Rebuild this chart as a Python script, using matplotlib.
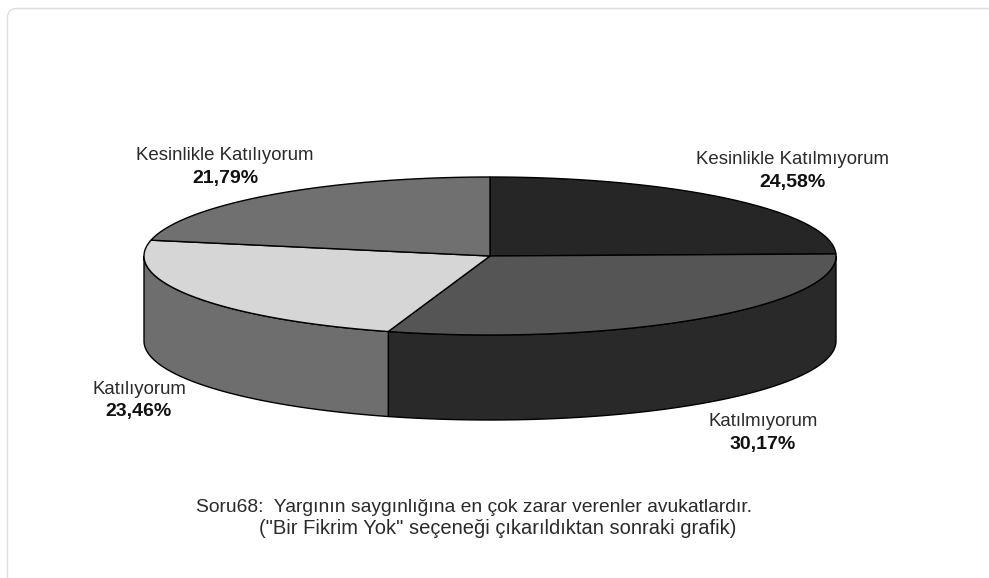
import numpy as np
import matplotlib
matplotlib.use('Agg')
import matplotlib.pyplot as plt
from matplotlib.patches import FancyBboxPatch, Polygon

plt.rcParams['font.family'] = ['Liberation Sans', 'DejaVu Sans']

# dilimler saat yonunde, tepeden baslayarak
etiketler = ['Kesinlikle Katılmıyorum', 'Katılmıyorum', 'Katılıyorum', 'Kesinlikle Katılıyorum']
degerler = [24.58, 30.17, 23.46, 21.79]
yuzdeler = ['24,58%', '30,17%', '23,46%', '21,79%']
renk_ust = ['#262626', '#555555', '#d6d6d6', '#707070']
renk_yan = ['#262626', '#292929', '#6e6e6e', '#707070']
etiket_yer = [(792, 160), (763, 422), (139, 389), (225, 156)]

dipnot1 = 'Soru68:  Yargının saygınlığına en çok zarar verenler avukatlardır.'
dipnot2 = '("Bir Fikrim Yok" seçeneği çıkarıldıktan sonraki grafik)'

# elips geometrisi (piksel)
cx, cy = 490, 256
rx, ry = 346, 79
derinlik = 85

fig = plt.figure(figsize=(9.89, 5.78), dpi=100)
ax = fig.add_axes([0, 0, 1, 1])
ax.set_xlim(0, 989)
ax.set_ylim(578, 0)
ax.axis('off')

ax.add_patch(FancyBboxPatch((7.5, 8.5), 1100, 700, boxstyle='round,pad=0,rounding_size=9',
                            fc='white', ec='#dedede', lw=1))


def elips(t, dy=0):
    return np.column_stack([cx + rx * np.cos(t), cy + ry * np.sin(t) + dy])


sinirlar = np.cumsum([0] + degerler) / 100 * 2 * np.pi - np.pi / 2

# yan yuzler: ekranda y asagi dogru, yani sin(t) > 0 olan kisim on taraf
for i in range(len(degerler)):
    a = max(sinirlar[i], 0)
    b = min(sinirlar[i + 1], np.pi)
    if b > a:
        t = np.linspace(a, b, 120)
        kenar = np.vstack([elips(t), elips(t[::-1], derinlik)])
        ax.add_patch(Polygon(kenar, closed=True, fc=renk_yan[i], ec='black', lw=1, joinstyle='round'))

# ust yuzler
for i in range(len(degerler)):
    t = np.linspace(sinirlar[i], sinirlar[i + 1], 200)
    dilim = np.vstack([[cx, cy], elips(t)])
    ax.add_patch(Polygon(dilim, closed=True, fc=renk_ust[i], ec='black', lw=1, joinstyle='round'))

for i in range(len(etiketler)):
    x, y = etiket_yer[i]
    ax.text(x, y, etiketler[i], ha='center', va='center', fontsize=13.4, color='#2a2a2a')
    ax.text(x, y + 22.5, yuzdeler[i], ha='center', va='center', fontsize=14, fontweight='bold', color='#111111')

ax.text(196, 508, dipnot1, ha='left', va='center', fontsize=13.9, color='#2a2a2a')
ax.text(259, 529, dipnot2, ha='left', va='center', fontsize=14.5, color='#2a2a2a')

plt.savefig('out.png', dpi=100)
